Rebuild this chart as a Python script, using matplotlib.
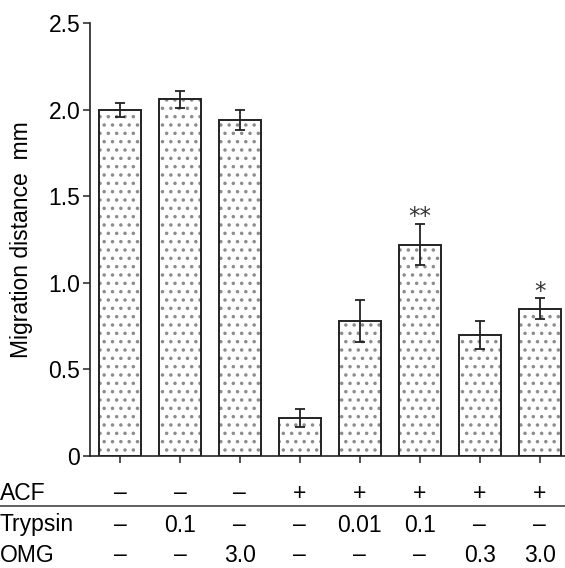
import matplotlib
matplotlib.use("Agg")
import matplotlib.pyplot as plt
from matplotlib import font_manager
from matplotlib.lines import Line2D

names = {f.name for f in font_manager.fontManager.ttflist}
fam = "Liberation Sans Narrow" if "Liberation Sans Narrow" in names else "Liberation Sans"
plt.rcParams['font.family'] = [fam, 'DejaVu Sans']
plt.rcParams['hatch.linewidth'] = 1.3

# data
values = [2.00, 2.06, 1.94, 0.22, 0.78, 1.22, 0.70, 0.85]
errors = [0.04, 0.05, 0.06, 0.05, 0.12, 0.12, 0.08, 0.06]
acf = ["–", "–", "–", "+", "+", "+", "+", "+"]
trypsin = ["–", "0.1", "–", "–", "0.01", "0.1", "–", "–"]
omg = ["–", "–", "3.0", "–", "–", "–", "0.3", "3.0"]
signif = ["", "", "", "", "", "**", "", "*"]
yticks = [0, 0.5, 1.0, 1.5, 2.0, 2.5]
ytick_labels = ["0", "0.5", "1.0", "1.5", "2.0", "2.5"]

W, H = 565, 568
fig = plt.figure(figsize=(W / 100, H / 100), dpi=100)
ax = fig.add_axes([90 / W, 112 / H, 1 - 90 / W, (456 - 23) / H])

x = list(range(len(values)))
bw = 0.69
ax.bar(x, values, width=bw, color='white', edgecolor='#8c8c8c', hatch='..', linewidth=0, zorder=2)
ax.bar(x, values, width=bw, fill=False, edgecolor='#222222', linewidth=1.4, zorder=3)
ax.errorbar(x, values, yerr=errors, fmt='none', ecolor='#222222', elinewidth=1.3,
            capsize=3.8, capthick=1.3, zorder=4)

fs = 16.5
for xi, v, e, s in zip(x, values, errors, signif):
    if s:
        ax.text(xi, v + e - 0.025, s, ha='center', va='bottom', fontsize=fs, color='#333333',
                family=['DejaVu Sans'])

ax.set_xlim(-0.5, 7.42)
ax.set_ylim(0, 2.5)
ax.set_yticks(yticks)
ax.set_yticklabels(ytick_labels)
ax.set_xticks(x)
ax.set_xticklabels([])
ax.tick_params(axis='both', direction='out', length=5, width=1.1, color='#222222',
               labelsize=fs, pad=2)
for side in ['top', 'right']:
    ax.spines[side].set_visible(False)
for side in ['left', 'bottom']:
    ax.spines[side].set_linewidth(1.2)
    ax.spines[side].set_color('#222222')

ax.set_ylabel("Migration distance  mm", fontsize=fs)
ax.yaxis.set_label_coords(-0.12, 0.5)

rows = [("ACF", acf, 493), ("Trypsin", trypsin, 525), ("OMG", omg, 555)]
for label, entries, ypix in rows:
    yf = 1 - ypix / H
    fig.text(0.0, yf, label, ha='left', va='center', fontsize=fs)
    for xi, t in zip(x, entries):
        xd = ax.transData.transform((xi, 0))[0]
        xf = fig.transFigure.inverted().transform((xd, 0))[0]
        fig.text(xf, yf, t, ha='center', va='center', fontsize=fs)

fig.add_artist(Line2D([0, 1], [1 - 506 / H, 1 - 506 / H], transform=fig.transFigure,
                      color='#444444', linewidth=1.2))

fig.savefig("out.png", dpi=100)
